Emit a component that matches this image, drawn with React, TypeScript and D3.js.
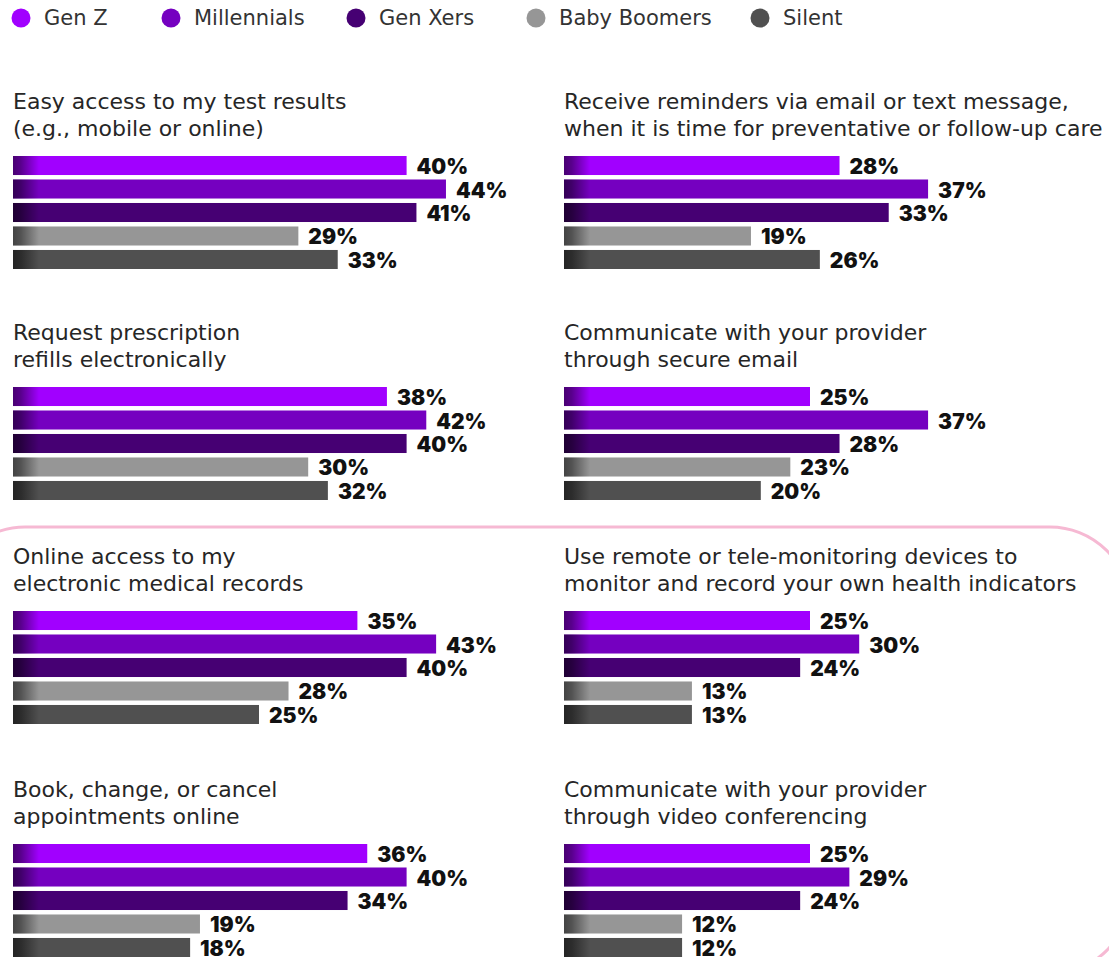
import React from "react";
import * as d3 from "d3";

const generations = ["Gen Z", "Millennials", "Gen Xers", "Baby Boomers", "Silent"];
const genColors = ["#a100ff", "#7500c0", "#460073", "#969696", "#505050"];

const panelTitles: string[][] = [
  ["Easy access to my test results", "(e.g., mobile or online)"],
  ["Request prescription", "refills electronically"],
  ["Online access to my", "electronic medical records"],
  ["Book, change, or cancel", "appointments online"],
  ["Receive reminders via email or text message,", "when it is time for preventative or follow-up care"],
  ["Communicate with your provider", "through secure email"],
  ["Use remote or tele-monitoring devices to", "monitor and record your own health indicators"],
  ["Communicate with your provider", "through video conferencing"],
];

const easyAccess = [40, 44, 41, 29, 33];
const prescriptionRefills = [38, 42, 40, 30, 32];
const onlineRecords = [35, 43, 40, 28, 25];
const bookAppointments = [36, 40, 34, 19, 18];
const reminders = [28, 37, 33, 19, 26];
const secureEmail = [25, 37, 28, 23, 20];
const teleMonitoring = [25, 30, 24, 13, 13];
const videoConferencing = [25, 29, 24, 12, 12];

const panelValues = [
  easyAccess,
  prescriptionRefills,
  onlineRecords,
  bookAppointments,
  reminders,
  secureEmail,
  teleMonitoring,
  videoConferencing,
];

const panelColumn = [0, 0, 0, 0, 1, 1, 1, 1];
const panelRow = [0, 1, 2, 3, 0, 1, 2, 3];

const W = 1109;
const H = 957;
const colX = [13, 564];
const rowTitleY = [109, 340, 564, 797];
const titleLineGap = 27;
const barsOffset = 47;

const TITLE_FONT = "'DejaVu Sans', sans-serif";
const LABEL_FONT = "Inter, 'Open Sans', sans-serif";

const legendX = [21, 171, 356, 536, 760];

export default function App() {
  const x = d3.scaleLinear().domain([0, 50]).range([0, 492]);
  const y = d3.scaleBand<string>().domain(generations).range([0, 113]).paddingInner(0.19).paddingOuter(0);
  const bw = y.bandwidth();

  return (
    <svg
      width={W}
      height={H}
      viewBox={`0 0 ${W} ${H}`}
      style={{ position: "absolute", left: 0, top: 0, display: "block", background: "#fff" }}
    >
      <defs>
        <linearGradient id="shade" x1="0" x2="1" y1="0" y2="0">
          <stop offset="0" stopColor="#000" stopOpacity={0.55} />
          <stop offset="0.3" stopColor="#000" stopOpacity={0.45} />
          <stop offset="1" stopColor="#000" stopOpacity={0} />
        </linearGradient>
      </defs>

      <rect x={-55} y={527} width={1185} height={447} rx={80} ry={80} fill="none" stroke="#f6b9d3" strokeWidth={3} />

      <g>
        {generations.map((g, i) => (
          <g key={g}>
            <circle cx={legendX[i]} cy={18} r={9.5} fill={genColors[i]} />
            <text
              x={legendX[i] + 23}
              y={18}
              dominantBaseline="central"
              fontFamily={TITLE_FONT}
              fontSize={21}
              fill="#333"
            >
              {g}
            </text>
          </g>
        ))}
      </g>

      {panelValues.map((vals, p) => {
        const px = colX[panelColumn[p]];
        const ty = rowTitleY[panelRow[p]];
        const by = ty + barsOffset;
        return (
          <g key={p}>
            {panelTitles[p].map((line, li) => (
              <text
                key={li}
                x={px}
                y={ty + li * titleLineGap}
                fontFamily={TITLE_FONT}
                fontSize={22}
                fill="#262626"
              >
                {line}
              </text>
            ))}
            <g transform={`translate(${px},${by})`}>
              {vals.map((v, i) => {
                const g = generations[i];
                const yy = y(g) as number;
                const w = x(v);
                return (
                  <g key={g}>
                    <rect x={0} y={yy} width={w} height={bw} fill={genColors[i]} />
                    <rect x={0} y={yy} width={Math.min(26, w)} height={bw} fill="url(#shade)" />
                    <text
                      x={w + 10}
                      y={yy + bw / 2 + 1}
                      dominantBaseline="central"
                      fontFamily={LABEL_FONT}
                      fontWeight={900}
                      fontSize={21}
                      fill="#111"
                    >
                      {v}%
                    </text>
                  </g>
                );
              })}
            </g>
          </g>
        );
      })}
    </svg>
  );
}
